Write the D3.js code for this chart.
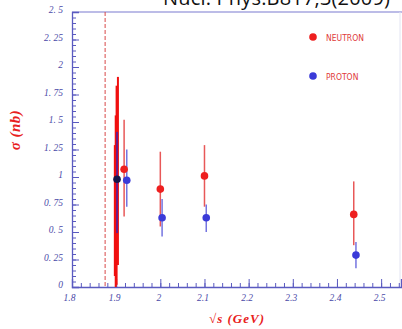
<!DOCTYPE html>
<meta charset="utf-8">
<script src="https://d3js.org/d3.v7.min.js"></script>
<style>
  body { margin: 0; background: #fff; }
  .tick text { font-family: "Liberation Serif", serif; font-style: italic; fill: #4a4aa8; font-size: 9.5px; }
</style>
<body>
<div id="chart"></div>
<script>
// cross sections, sigma (nb) vs sqrt(s) (GeV)
var neutronX  = [1.897, 1.899, 1.901, 1.904, 1.918, 2.000, 2.100, 2.438];
var neutronY  = [0.98, 0.98, 0.98, 0.98, 1.07, 0.89, 1.01, 0.66];
var neutronLo = [0.10, 0.00, 0.02, 0.20, 0.64, 0.55, 0.73, 0.38];
var neutronHi = [1.29, 1.56, 1.83, 1.91, 1.52, 1.23, 1.29, 0.96];

var protonX  = [1.902, 1.924, 2.004, 2.104, 2.443];
var protonY  = [0.98, 0.97, 0.63, 0.63, 0.29];
var protonLo = [0.49, 0.73, 0.46, 0.50, 0.17];
var protonHi = [1.41, 1.25, 0.80, 0.75, 0.41];

var xTicks = [1.8, 1.9, 2.0, 2.1, 2.2, 2.3, 2.4, 2.5];
var yTicks = [0, 0.25, 0.5, 0.75, 1, 1.25, 1.5, 1.75, 2, 2.25, 2.5];
var threshold = 1.875;
var seriesNames = ["NEUTRON", "PROTON"];
var title = "Nucl. Phys.B817,3(2009)";

var width = 402, height = 329;
var m = {left: 72, right: 401, top: 12, bottom: 287};

var svg = d3.select("#chart").append("svg")
    .attr("width", width)
    .attr("height", height);

var x = d3.scaleLinear().domain([1.8, 2.545]).range([m.left, m.right]);
var y = d3.scaleLinear().domain([0, 2.5]).range([m.bottom, m.top]);

var blue = "#3a3ad8", red = "#ee1f1f", axisBlue = "#5a5ac0";

// title, cut off at the top of the picture
svg.append("text")
    .attr("x", 163).attr("y", 5)
    .attr("textLength", 227).attr("lengthAdjust", "spacing")
    .style("font-family", "Open Sans, sans-serif")
    .style("font-size", "20px")
    .style("fill", "#111")
    .text(title);

// frame
svg.append("line").attr("x1", m.left).attr("x2", width).attr("y1", m.top).attr("y2", m.top)
    .style("stroke", "#7a7ad0").style("stroke-width", 1.2);
svg.append("line").attr("x1", m.right - 1).attr("x2", m.right - 1).attr("y1", m.top).attr("y2", m.bottom)
    .style("stroke", "#e2e4f2").style("stroke-width", 1);

// minor ticks
svg.append("g")
    .attr("transform", "translate(" + m.left + ",0)")
    .call(d3.axisRight(y).tickValues(d3.range(0, 2.5001, 0.05)).tickSize(4).tickFormat(""))
    .call(g => g.select(".domain").remove())
    .selectAll("line").style("stroke", axisBlue);
svg.append("g")
    .attr("transform", "translate(0," + m.bottom + ")")
    .call(d3.axisTop(x).tickValues(d3.range(1.8, 2.545, 0.02)).tickSize(4).tickFormat(""))
    .call(g => g.select(".domain").remove())
    .selectAll("line").style("stroke", axisBlue);

// major ticks + labels
var yAxis = svg.append("g")
    .attr("transform", "translate(" + m.left + ",0)")
    .call(d3.axisRight(y).tickValues(yTicks).tickSize(7).tickFormat(d => d3.format("")(d).replace(".", ". ")));
yAxis.selectAll("text").attr("x", -9).attr("dy", "0.1em").style("text-anchor", "end");
yAxis.select(".domain").style("stroke", axisBlue).style("stroke-width", 1.3);
yAxis.selectAll("line").style("stroke", axisBlue);

var xAxis = svg.append("g")
    .attr("transform", "translate(0," + m.bottom + ")")
    .call(d3.axisTop(x).tickValues(xTicks).tickSize(8).tickFormat(d3.format("")));
xAxis.selectAll("text").attr("y", 14).attr("x", -2).attr("dy", 0);
xAxis.select(".domain").style("stroke", axisBlue).style("stroke-width", 1.3);
xAxis.selectAll("line").style("stroke", axisBlue);
xAxis.selectAll(".tick").filter(d => d === 1.8).select("text").attr("x", -3);

// threshold line
svg.append("line")
    .attr("x1", x(threshold)).attr("x2", x(threshold))
    .attr("y1", m.top).attr("y2", m.bottom)
    .style("stroke", "#d84848").style("stroke-width", 1)
    .style("stroke-dasharray", "4,2");

// error bars
var neutron = neutronX.map((d, i) => ({x: d, y: neutronY[i], lo: neutronLo[i], hi: neutronHi[i]}));
var proton = protonX.map((d, i) => ({x: d, y: protonY[i], lo: protonLo[i], hi: protonHi[i]}));

svg.append("g").selectAll("line")
    .data(neutron).enter().append("line")
    .attr("x1", d => x(d.x)).attr("x2", d => x(d.x))
    .attr("y1", d => y(d.hi)).attr("y2", d => y(d.lo))
    .style("stroke", (d, i) => i < 4 ? "#f01010" : "#e85858")
    .style("stroke-width", (d, i) => i < 4 ? 2 : 1.5);

svg.append("g").selectAll("line")
    .data(proton).enter().append("line")
    .attr("x1", d => x(d.x)).attr("x2", d => x(d.x))
    .attr("y1", d => y(d.hi)).attr("y2", d => y(d.lo))
    .style("stroke", (d, i) => i === 0 ? "#6a1a8a" : "#7474e0")
    .style("stroke-width", (d, i) => i === 0 ? 2 : 1.5);

// markers
svg.append("g").selectAll("circle")
    .data(neutron.slice(4)).enter().append("circle")
    .attr("cx", d => x(d.x)).attr("cy", d => y(d.y)).attr("r", 3.8)
    .style("fill", red);

svg.append("g").selectAll("circle")
    .data(proton).enter().append("circle")
    .attr("cx", d => x(d.x)).attr("cy", d => y(d.y)).attr("r", 3.8)
    .style("fill", (d, i) => i === 0 ? "#16164a" : blue);

// legend
var legend = svg.append("g").selectAll("g")
    .data(seriesNames).enter().append("g")
    .attr("transform", (d, i) => "translate(313," + (37 + i * 39) + ")");
legend.append("circle").attr("r", 3.8).style("fill", (d, i) => i === 0 ? red : blue);
legend.append("text")
    .attr("x", 13).attr("y", 3.5)
    .style("font-family", "DejaVu Sans Condensed, sans-serif")
    .style("font-size", "8.5px")
    .style("fill", "#e03a3a")
    .text(d => d);

// axis titles
svg.append("text")
    .attr("transform", "translate(20,130) rotate(-90)")
    .style("text-anchor", "middle")
    .style("font-family", "Liberation Serif, serif")
    .style("font-style", "italic").style("font-weight", "bold")
    .style("font-size", "15px").style("fill", "#e82020")
    .style("letter-spacing", "0.5px")
    .text("\u03c3 (nb)");

svg.append("text")
    .attr("x", 237).attr("y", 323)
    .style("text-anchor", "middle")
    .style("font-family", "Liberation Serif, serif")
    .style("font-style", "italic").style("font-weight", "bold")
    .style("font-size", "13px").style("fill", "#e82020")
    .style("letter-spacing", "1px")
    .text("\u221as (GeV)");
</script>
</body>
